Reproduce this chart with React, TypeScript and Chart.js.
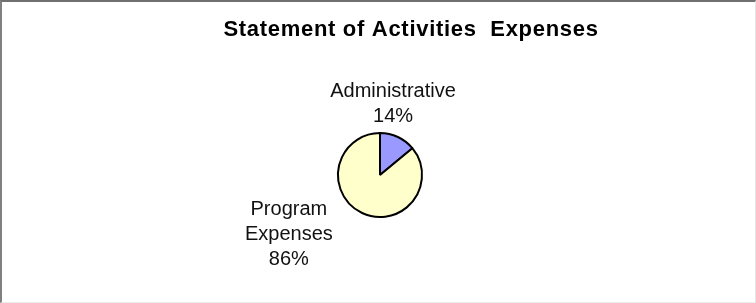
import React, { useEffect, useRef } from "react";
import { Chart, registerables } from "chart.js";

Chart.register(...registerables);

const titleText = "Statement of Activities  Expenses";
const categories = ["Administrative", "Program Expenses"];
const labelLines = [["Administrative"], ["Program", "Expenses"]];
const values = [14, 86];
const colors = ["#9999FF", "#FFFFCC"];
// label block centre, in units of the pie radius from the pie centre
const labelOffsets = [
  [0.31, -1.68],
  [-2.17, 1.41],
];

const FONT = "'Liberation Sans', Arial, sans-serif";

const labelPlugin = {
  id: "pieLabels",
  afterDraw(chart: any) {
    const ctx = chart.ctx;
    ctx.save();
    // title
    ctx.fillStyle = "#000";
    ctx.font = `bold 22px ${FONT}`;
    ctx.textAlign = "center";
    ctx.textBaseline = "alphabetic";
    try {
      (ctx as any).letterSpacing = "0.7px";
    } catch (e) {}
    ctx.fillText(titleText, 411, 36);
    try {
      (ctx as any).letterSpacing = "0px";
    } catch (e) {}

    const meta = chart.getDatasetMeta(0);
    const total = values.reduce((a, b) => a + b, 0);
    ctx.font = `20px ${FONT}`;
    ctx.fillStyle = "#111";
    meta.data.forEach((arc: any, i: number) => {
      const p = arc.getProps(["x", "y", "outerRadius"], true);
      const lines = [
        ...labelLines[i],
        `${Math.round((values[i] / total) * 100)}%`,
      ];
      const cx = p.x + labelOffsets[i][0] * p.outerRadius;
      const cy = p.y + labelOffsets[i][1] * p.outerRadius;
      const lh = 25;
      const top = cy - ((lines.length - 1) * lh) / 2;
      lines.forEach((t, k) => {
        ctx.textBaseline = "middle";
        ctx.fillText(t, cx, top + k * lh);
      });
    });
    ctx.restore();
  },
};

export default function App() {
  const ref = useRef<HTMLCanvasElement>(null);
  useEffect(() => {
    if (!ref.current) return;
    const chart = new Chart(ref.current, {
      type: "pie",
      data: {
        labels: categories,
        datasets: [
          {
            data: values,
            backgroundColor: colors,
            borderColor: "#000",
            borderWidth: 2,
          },
        ],
      },
      options: {
        responsive: false,
        animation: false,
        radius: 42,
        layout: { padding: { left: 4, right: 0, top: 47, bottom: 0 } },
        plugins: {
          legend: { display: false },
          title: { display: false },
          tooltip: { enabled: false },
        },
      } as any,
      plugins: [labelPlugin],
    });
    return () => chart.destroy();
  }, []);
  return (
    <div
      style={{
        position: "fixed",
        left: 0,
        top: 0,
        width: 756,
        height: 303,
        background: "#fff",
      }}
    >
      <canvas ref={ref} width={756} height={303} style={{ display: "block" }} />
      <div
        style={{
          position: "absolute",
          left: 0,
          top: 0,
          width: 756,
          height: 303,
          boxSizing: "border-box",
          borderTop: "2px solid #707070",
          borderLeft: "2px solid #808080",
          borderRight: "1px solid #e6e6e6",
          borderBottom: "1px solid #eeeeee",
          pointerEvents: "none",
        }}
      />
    </div>
  );
}
